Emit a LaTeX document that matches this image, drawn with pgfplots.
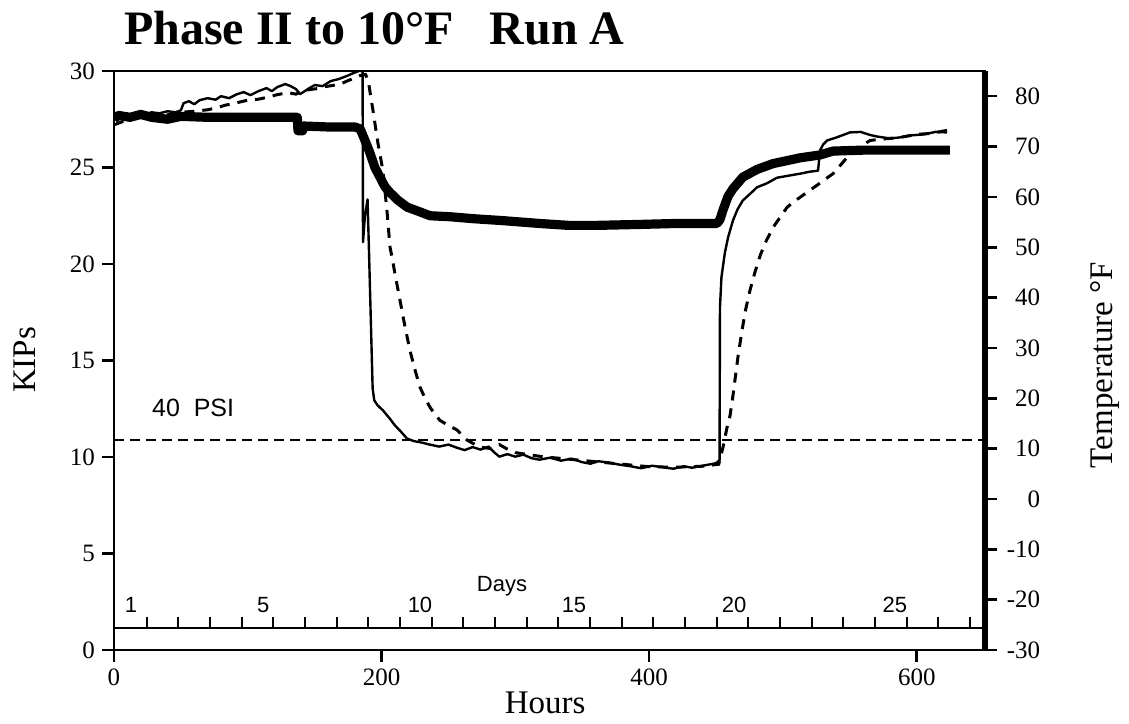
\documentclass[border=0pt]{standalone}
\usepackage{fontspec}
\setmainfont{Liberation Serif}
\newfontfamily\helv{Liberation Sans}
\usepackage{pgfplots}
\pgfplotsset{compat=1.18}

\begin{document}
\begin{tikzpicture}
\pgfplotsset{
  chartframe/.style={
    scale only axis, width=435.5pt, height=289.5pt,
    xmin=0, xmax=651,
    /pgf/number format/assume math mode=true,
    tick label style={font=\fontsize{12.5}{14}\selectfont},
    major tick length=6pt,
  },
}
% Load (KIPs) on the left axis
\begin{axis}[chartframe,
  ymin=0, ymax=30,
  xtick={0,200,400,600},
  ytick={0,5,...,30},
  tick pos=left, tick align=outside,
  axis line style={line width=1.3pt},
  every tick/.style={black, line width=1.3pt},
  xlabel={Hours}, ylabel={KIPs},
  every axis x label/.style={at={(axis description cs:0.495,-0.0915)}, anchor=center, font=\fontsize{16.5}{18}\selectfont},
  every axis y label/.style={at={(axis description cs:-0.102,0.501)}, anchor=center, rotate=90, font=\fontsize{16.5}{18}\selectfont},
  title={\bfseries Phase II to 10°F\hspace{18pt}Run A},
  every axis title/.style={at={(axis description cs:0.0034,1.045)}, anchor=base west, font=\fontsize{24}{28}\selectfont},
]
% 40 PSI reference level
\addplot[black, line width=1.4pt, dash pattern=on 5pt off 3pt] coordinates {(0,10.88) (651,10.88)};
\node[anchor=base west, font=\helv\fontsize{12.5}{14}\selectfont] at (axis cs:23.2,12.09) {40\ \ PSI};

% day scale
\draw[line width=1.1pt] (axis cs:0,1.14) -- (axis cs:651,1.14);
\pgfplotsinvokeforeach{24.37,48.04,71.71,95.38,119.05,142.72,166.39,190.06,213.73,237.4,261.07,284.74,308.41,332.08,355.75,379.42,403.09,426.76,450.43,474.1,497.77,521.44,545.11,568.78,592.45,616.12,639.79}{
  \draw[line width=1pt] (axis cs:#1,1.14) -- (axis cs:#1,1.71);
}
\begin{scope}[font=\helv\fontsize{11}{13}\selectfont]
\node[anchor=base] at (axis cs:12.7,1.92) {1};
\node[anchor=base] at (axis cs:111.6,1.92) {5};
\node[anchor=base] at (axis cs:228.7,1.92) {10};
\node[anchor=base] at (axis cs:343.8,1.92) {15};
\node[anchor=base] at (axis cs:463.4,1.92) {20};
\node[anchor=base] at (axis cs:583.7,1.92) {25};
\node[anchor=base west] at (axis cs:266,3.02) {Days};
\end{scope}

% load
\addplot[black, line width=4.6pt, line join=round] coordinates {
(0,27.5) (3,27.7) (12,27.6) (20,27.75) (28,27.6) (40,27.5) (50,27.65) (70,27.6) (100,27.6) (137,27.6)
(137.5,26.9) (141,26.9) (141.5,27.15) (160,27.1) (180,27.1) (184,27.0)
(187.6,26.4) (191.3,25.75) (195,25.0) (198.8,24.5) (202.5,24.0) (206.3,23.7) (212.3,23.3) (219,22.95)
(228.7,22.7) (236.2,22.5) (251,22.45) (268,22.35) (290,22.25) (318,22.1) (340,22.0) (360,22.0)
(393,22.05) (420,22.1) (450.7,22.1) (452.9,22.3) (455.2,22.8) (458.9,23.5) (462.6,23.9) (470,24.5)
(480.6,24.9) (492.5,25.2) (512.7,25.5) (527.7,25.65) (537.4,25.85) (560,25.9) (600,25.9) (624.8,25.9)
};
\end{axis}

% temperature on the right axis
\begin{axis}[chartframe,
  ymin=-30, ymax=85,
  axis x line=none,
  axis y line=right,
  ytick={-30,-20,...,80},
  tick align=outside,
  y axis line style={-, line width=2.8pt},
  every tick/.style={black, line width=1.3pt},
  yticklabel style={text width=1.8em, align=right},
  ylabel={Temperature °F},
  every axis y label/.style={at={(axis description cs:1.138,0.492)}, anchor=center, rotate=90, font=\fontsize{16.5}{18}\selectfont},
]
% thermocouple, solid
\addplot[black, line width=1.2pt, line join=round] coordinates {
(0,75.6) (4,76.2) (10,76.0) (16,76.5) (22,76.2) (28,76.8) (34,76.6) (40,77.0) (46,76.8) (50,77.2)
(52,78.6) (56,79.0) (60,78.4) (64,79.2) (70,79.6) (76,79.3) (80,80.0) (86,79.6) (92,80.4) (97,80.8)
(102,80.2) (108,81.0) (114,81.6) (118,81.0) (122,81.8) (128,82.4) (132,82.0) (136,81.4) (139,80.4)
(142,80.9) (146,81.6) (150,82.2) (156,82.0) (162,83.0) (168,83.4) (174,84.0) (179,84.6) (183,85.0)
(185.8,85.0) (186.1,51.0) (187.5,56.0) (189.5,59.5) (190.5,50.0) (191.5,40.0) (192.5,30.0) (193.3,22.0)
(194.5,19.6) (197,18.6) (201,17.6) (206,16.0) (210,14.6) (214,13.5) (219,12.0) (224,11.5) (230,11.2)
(236,10.8) (243,10.4) (250,10.8) (256,10.2) (262,9.7) (268,10.3) (274,9.8) (280,10.4) (284,9.3)
(288,8.4) (294,8.9) (300,8.4) (306,8.8) (312,8.1) (318,7.8) (326,8.2) (334,7.6) (342,8.0) (350,7.3)
(356,7.0) (362,7.5) (370,7.2) (378,6.8) (386,6.5) (394,6.1) (402,6.6) (410,6.3) (418,6.0) (426,6.5)
(432,6.2) (440,6.6) (446,6.9) (450,7.1) (452.6,7.7) (452.9,38.0) (454,44.0) (456.5,48.8) (459,52.0)
(462.6,55.3) (466,57.5) (470,59.3) (475,60.5) (480.6,61.9) (488,62.7) (495.5,63.8) (504,64.2)
(512.7,64.6) (520,65.0) (526.2,65.2) (527.7,69.2) (530,70.4) (533,71.2) (540,71.8) (550,72.8)
(558,72.9) (565,72.3) (570,72.0) (580,71.6) (587,71.8) (595,72.2) (605,72.4) (614,72.9) (622.6,72.8)
};
% thermocouple, dashed
\addplot[black, line width=1.5pt, dash pattern=on 5pt off 4pt] coordinates {
(0,74.3) (5,74.8) (10,75.4) (14,75.6) (20,75.8) (30,76.0) (40,76.3) (50,76.8) (60,77.0) (70,77.3)
(77,77.7) (83,78.2) (89,78.5) (95,78.9) (100,79.2) (108,79.4) (115,79.8) (122,80.3) (130,80.7)
(136,80.4) (140,81.0) (146,81.3) (152,81.5) (158,81.9) (165,82.2) (170,82.5) (175,83.1) (179,83.5)
(184,84.1) (188,84.3) (190,83.1) (193.6,77.1) (197.3,70.6) (201,65.2) (204,57.3) (206.3,50.0)
(207.8,48.0) (210.5,44.0) (213.8,39.4) (217.5,34.2) (221.2,29.5) (225,25.6) (228.7,22.2) (232.5,20.0)
(236.2,18.2) (240,16.8) (243.6,15.6) (250,14.6) (256.4,13.7) (260,12.7) (263.8,11.7) (270,10.8)
(276,10.2) (282,10.0) (288,10.8) (294,9.9) (300,9.2) (320,8.4) (340,7.9) (360,7.4) (380,6.9)
(400,6.4) (420,6.3) (440,6.5) (452,6.9) (455.2,10.3) (458,14.0) (460.4,16.5) (462.6,20.5) (464.1,23.6)
(466.5,28.5) (469.4,33.5) (472,37.5) (475.3,41.4) (479,45.0) (483,48.4) (487,51.0) (492.5,53.9)
(498,56.0) (503,57.9) (508,59.0) (512.7,59.9) (519,61.1) (525.4,62.3) (531,63.4) (537.4,64.6)
(542,66.0) (547.8,67.8) (553,69.0) (558,70.0) (565,71.2) (575,71.5) (587.4,71.8) (600,72.4)
(610,72.6) (622.6,73.2)
};
\end{axis}
\pgfresetboundingbox
\path[use as bounding box] (-57pt,-36.5pt) rectangle (507.5pt,325pt);
\end{tikzpicture}
\end{document}
